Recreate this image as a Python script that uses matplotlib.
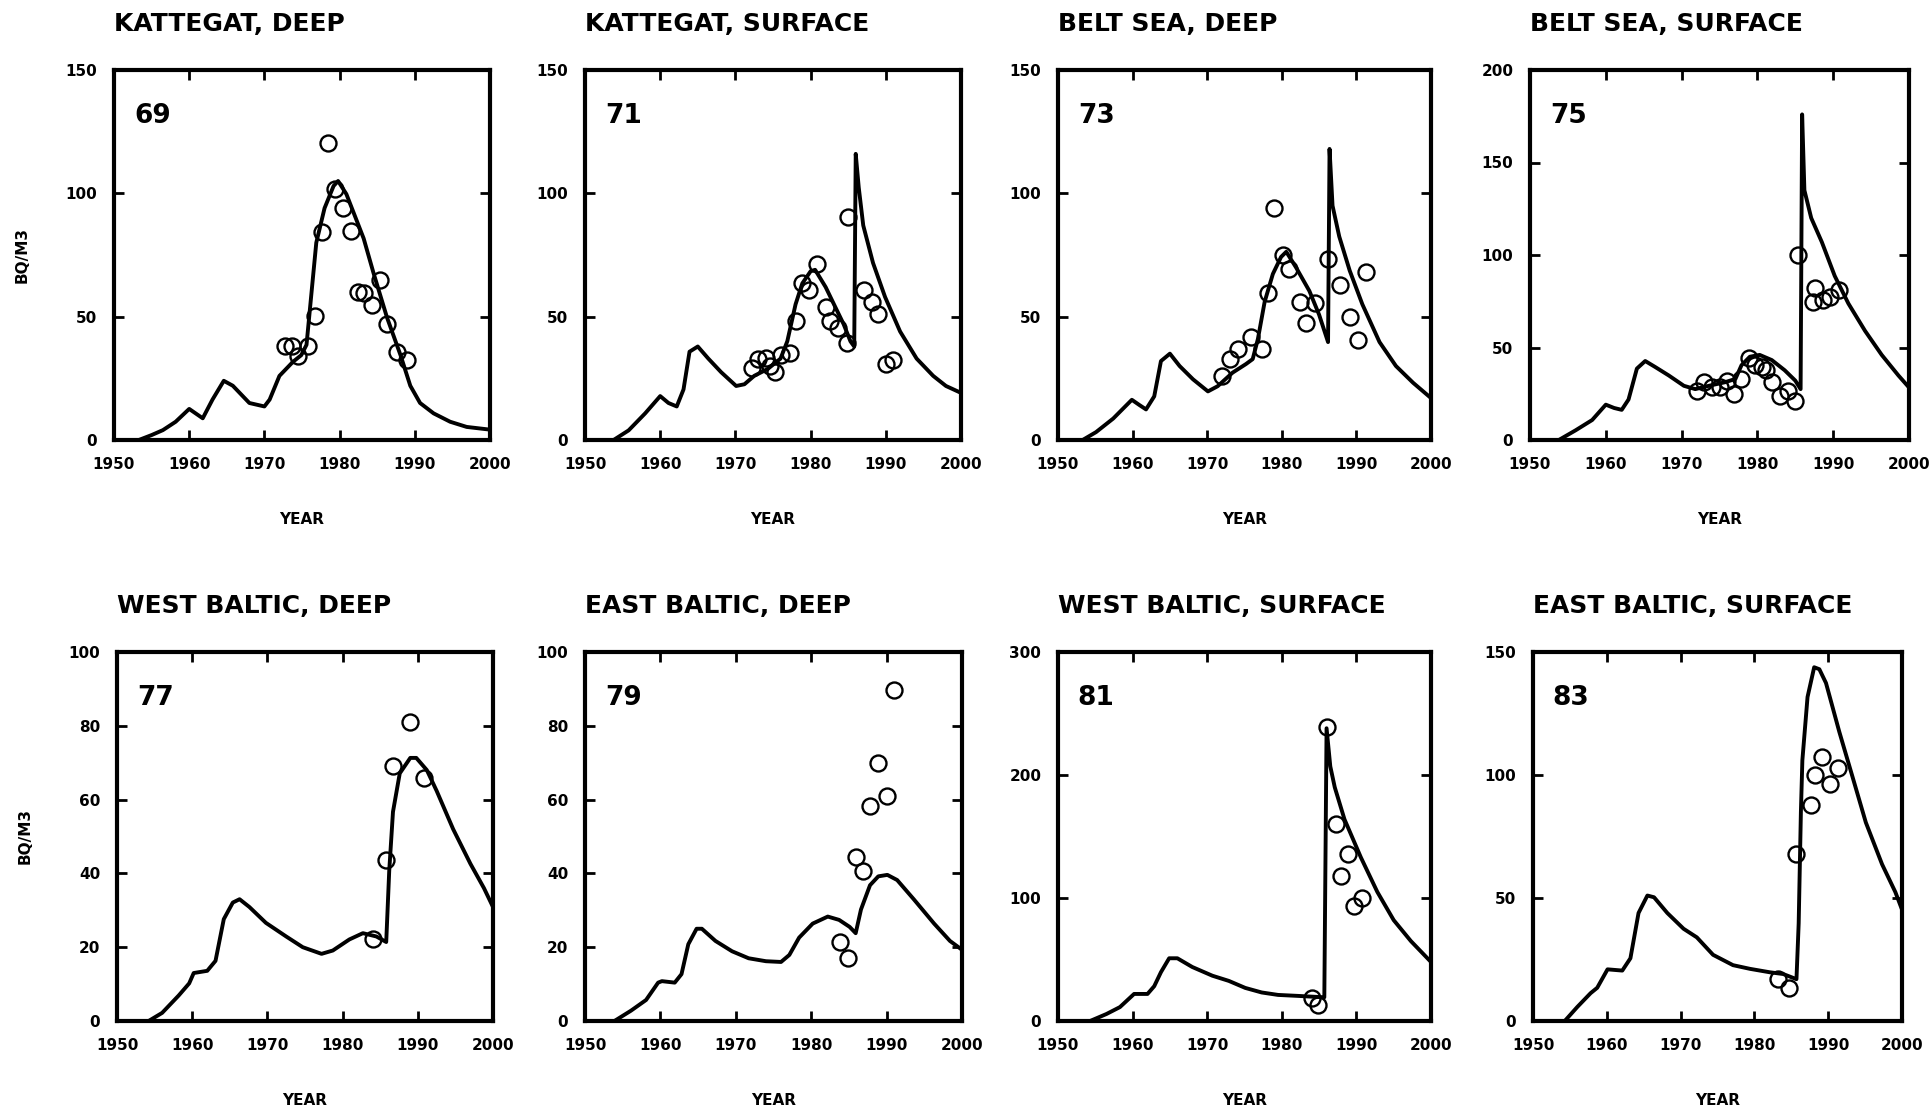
import matplotlib.pyplot as plt

# model curves (Bq/m3) and measured values, one set per sea area

kd_yr = [1950, 1953.3, 1955, 1956.5, 1958.2, 1960, 1961.8, 1963.1, 1964.6, 1965.8, 1968, 1970,
         1970.7, 1972, 1973.8, 1974.9, 1975.6, 1976.9, 1978.0, 1979.2, 1979.8, 1980.9, 1983.2,
         1984.5, 1986.3, 1988.1, 1989.4, 1990.7, 1992.5, 1994.7, 1996.9, 2000]
kd_val = [0, 0, 2, 4, 7.4, 12.6, 8.8, 16.4, 24, 22, 15, 13.6, 16.4, 26, 31.7, 34.4, 38.6, 80, 94,
          103, 105, 99.7, 81.7, 67.8, 49.7, 34.4, 22, 15, 10.8, 7.4, 5.3, 4.2]
kd_obs_yr = [1972.7, 1973.7, 1974.5, 1975.8, 1976.7, 1977.6, 1978.5, 1979.4, 1980.4, 1981.5,
             1982.5, 1983.2, 1984.3, 1985.4, 1986.3, 1987.6, 1989.0]
kd_obs = [38, 38, 34, 38, 50.4, 84.4, 120.5, 101.8, 94.2, 84.7, 60, 59.4, 54.6, 65, 47, 35.8, 32.4]

ks_yr = [1950, 1953.8, 1955.8, 1958.0, 1960, 1961.1, 1962.2, 1963.1, 1963.9, 1965.0, 1966.4,
         1968.1, 1970.1, 1971.2, 1972.5, 1974.3, 1976.0, 1976.9, 1978.0, 1978.9, 1980, 1980.6,
         1982.0, 1983.3, 1984.4, 1985.3, 1985.8, 1986.0, 1986.4, 1987.0, 1988.3, 1989.9, 1991.9,
         1994.1, 1996.3, 1998.0, 2000]
ks_val = [0, 0, 3.9, 10.8, 17.8, 15, 13.6, 20.5, 35.8, 37.9, 33, 27.5, 21.9, 22.6, 26, 28.8, 33,
          40, 55, 63.5, 68.4, 69, 62, 53.8, 46.9, 40, 37.9, 116, 102.4, 87, 71.8, 58, 44, 33, 26,
          21.9, 19.1]
ks_obs_yr = [1972.2, 1973.0, 1974.1, 1974.6, 1975.2, 1976.0, 1977.3, 1978.0, 1978.9, 1979.8,
             1980.9, 1982.0, 1982.6, 1983.7, 1984.8, 1985.0, 1987.1, 1988.1, 1989.0, 1990.0, 1991.0]
ks_obs = [29, 33, 33.3, 30.2, 27.5, 34.4, 35.1, 48.3, 63.5, 60.7, 71.2, 54, 48.3, 45.5, 39.3,
          90.6, 61, 55.9, 51, 31, 32.3]

bd_yr = [1950, 1953.3, 1955.1, 1957.4, 1959.9, 1960.9, 1961.8, 1962.9, 1963.8, 1965.0, 1966.3,
         1968.1, 1970.1, 1971.4, 1973.4, 1975.2, 1976.1, 1976.8, 1977.7, 1978.8, 1979.9, 1980.6,
         1981.9, 1983.7, 1985.0, 1986.2, 1986.4, 1986.8, 1987.7, 1989.1, 1990.8, 1993.1, 1995.3,
         1997.6, 2000]
bd_val = [0, 0, 3.2, 8.7, 16.3, 14.2, 12.4, 17.7, 32, 35, 30, 24.6, 19.7, 21.8, 27.3, 30.8, 32.8,
          41, 56, 67.3, 74.2, 76.3, 70, 60.4, 50.8, 39.7, 118, 95, 82.5, 68.7, 55, 39.7, 30,
          23.2, 17]
bd_obs_yr = [1972.0, 1973.0, 1974.1, 1975.9, 1977.4, 1978.1, 1978.9, 1980.2, 1981.0, 1982.4,
             1983.3, 1984.4, 1986.2, 1987.8, 1989.2, 1990.2, 1991.3]
bd_obs = [25.9, 32.8, 37, 41.8, 37, 59.7, 94.2, 74.9, 69.4, 56, 47.3, 55.6, 73.5, 62.9, 50,
          40.4, 68]

bs_yr = [1950, 1953.8, 1956.0, 1958.2, 1960, 1961.1, 1962.1, 1963.0, 1964.1, 1965.2, 1966.5,
         1968.3, 1970.3, 1971.8, 1973.6, 1975.7, 1977.1, 1977.9, 1979.0, 1980.3, 1981.9, 1983.6,
         1985.0, 1985.7, 1985.9, 1986.2, 1987.1, 1988.5, 1990.2, 1992.0, 1994.2, 1996.4, 1998.6,
         2000]
bs_val = [0, 0, 5.2, 10.8, 19.1, 17.3, 16.3, 21.9, 38.6, 42.7, 39.5, 34.9, 29.3, 27.5, 29.3,
          31.2, 33, 40.4, 45, 46, 43.2, 37.7, 32.1, 27.5, 176, 135, 120, 107, 88.7, 73.8, 59, 46,
          34.9, 28.4]
bs_obs_yr = [1972.0, 1972.9, 1974.0, 1975.1, 1976.0, 1976.9, 1977.9, 1978.9, 1979.7, 1980.6,
             1981.2, 1981.9, 1983.0, 1984.0, 1985.0, 1985.4, 1987.4, 1987.6, 1988.7, 1989.6, 1990.7]
bs_obs = [26.5, 31.2, 28.4, 28.4, 32.1, 24.7, 33, 44.2, 40.4, 39.5, 37.7, 31.2, 23.7, 26.5, 21,
          100, 74.8, 82, 75.7, 77.5, 81.3]

wd_yr = [1950, 1954.2, 1956.0, 1958.2, 1959.6, 1960.2, 1962.0, 1963.1, 1964.2, 1965.4, 1966.3,
         1967.6, 1969.8, 1972.5, 1974.7, 1977.2, 1978.7, 1980.9, 1982.7, 1984.5, 1985.8, 1986.2,
         1986.7, 1987.6, 1989.0, 1989.8, 1991.2, 1992.5, 1994.7, 1997.0, 1998.8, 2000]
wd_val = [0, 0, 2.2, 6.9, 10.2, 13, 13.6, 16.3, 27.6, 32.1, 33, 30.9, 26.6, 22.9, 20, 18.2, 19.1,
          22.1, 23.8, 22.9, 21.4, 40.7, 56.7, 67.1, 71.3, 71.3, 68, 62.4, 52, 42.6, 36, 30.9]
wd_obs_yr = [1984.0, 1985.8, 1986.7, 1988.9, 1990.8]
wd_obs = [22.1, 43.6, 69.1, 81, 65.9]

ed_yr = [1950, 1953.9, 1956.1, 1958.1, 1959.7, 1960.2, 1961.9, 1962.8, 1963.7, 1964.8, 1965.5,
         1967.3, 1969.5, 1971.7, 1974.0, 1976.0, 1977.1, 1978.4, 1980.2, 1982.2, 1983.7, 1985.1,
         1985.9, 1986.6, 1987.8, 1988.9, 1990.1, 1991.4, 1993.6, 1996.3, 1998.4, 2000]
ed_val = [0, 0, 2.8, 5.7, 10.4, 10.8, 10.4, 12.7, 20.8, 25, 25, 21.7, 18.9, 17, 16.2, 16, 17.9,
          22.6, 26.4, 28.3, 27.4, 25.5, 23.8, 30.2, 36.8, 39.2, 39.6, 38.2, 33, 26.4, 21.7, 19.3]
ed_obs_yr = [1983.8, 1984.9, 1986.0, 1986.9, 1987.8, 1988.9, 1990.0, 1991.0]
ed_obs = [21.5, 17.2, 44.5, 40.6, 58.2, 69.8, 61.1, 89.6]

ws_yr = [1950, 1954.3, 1956.5, 1958.3, 1960.2, 1962.0, 1962.9, 1963.8, 1964.9, 1966.0, 1968.0,
         1970.7, 1972.9, 1975.1, 1977.3, 1979.5, 1982.2, 1984.0, 1985.7, 1986.0, 1986.5, 1987.1,
         1988.4, 1990.6, 1992.8, 1995.0, 1997.3, 2000]
ws_val = [0, 0, 5.7, 11.3, 22, 22, 28.3, 39.7, 51, 51, 43.9, 36.8, 32.6, 26.9, 23.2, 21.2, 20.4,
          19.8, 19.3, 238, 207, 190, 164, 133, 105, 82, 65, 48]
ws_obs_yr = [1984.0, 1984.9, 1986.1, 1987.3, 1988.0, 1988.9, 1989.7, 1990.7]
ws_obs = [18.4, 12.7, 239, 160, 117.6, 135.4, 93.5, 99.7]

es_yr = [1950, 1954.3, 1956.0, 1957.8, 1958.7, 1960.1, 1962.1, 1963.2, 1964.3, 1965.5, 1966.4,
         1968.2, 1970.4, 1972.2, 1974.4, 1977.1, 1979.4, 1982.1, 1983.9, 1985.7, 1986.0, 1986.3,
         1986.5, 1987.2, 1988.1, 1988.8, 1989.7, 1991.5, 1993.3, 1995.1, 1997.3, 1999.1, 2000]
es_val = [0, 0, 5.7, 11.3, 13.5, 21, 20.5, 25.5, 43.9, 51, 50.3, 43.9, 37.5, 34, 26.9, 22.7,
          21.2, 19.8, 19.1, 17, 39.7, 85, 106, 131.7, 143.8, 143, 137.4, 117.6, 99.2, 80.7, 63.7,
          52.4, 45.3]
es_obs_yr = [1983.2, 1984.7, 1985.7, 1987.7, 1988.2, 1989.2, 1990.2, 1991.3]
es_obs = [17, 13.5, 68, 88, 99.9, 107.4, 96.3, 103]

titles = ['KATTEGAT, DEEP', 'KATTEGAT, SURFACE', 'BELT SEA, DEEP', 'BELT SEA, SURFACE',
          'WEST BALTIC, DEEP', 'EAST BALTIC, DEEP', 'WEST BALTIC, SURFACE', 'EAST BALTIC, SURFACE']
panel_nums = ['69', '71', '73', '75', '77', '79', '81', '83']
y_max = [150, 150, 150, 200, 100, 100, 300, 150]
y_step = [50, 50, 50, 50, 20, 20, 100, 50]
year_ticks = [1950, 1960, 1970, 1980, 1990, 2000]

models = [(kd_yr, kd_val), (ks_yr, ks_val), (bd_yr, bd_val), (bs_yr, bs_val),
          (wd_yr, wd_val), (ed_yr, ed_val), (ws_yr, ws_val), (es_yr, es_val)]
measured = [(kd_obs_yr, kd_obs), (ks_obs_yr, ks_obs), (bd_obs_yr, bd_obs), (bs_obs_yr, bs_obs),
            (wd_obs_yr, wd_obs), (ed_obs_yr, ed_obs), (ws_obs_yr, ws_obs), (es_obs_yr, es_obs)]

# panel boxes in pixels: left, right, top, bottom
W, H = 1929, 1113
boxes = [(114, 490, 70, 440), (585, 961, 70, 440), (1058, 1431, 70, 440), (1530, 1909, 70, 440),
         (117, 493, 652, 1021), (585, 962, 652, 1021), (1058, 1431, 652, 1021), (1533, 1902, 652, 1021)]

plt.rcParams['font.family'] = 'DejaVu Sans'
plt.rcParams['font.weight'] = 'bold'

fig = plt.figure(figsize=(W / 100, H / 100), dpi=100)

for i in range(8):
    l, r, t, b = boxes[i]
    ax = fig.add_axes([l / W, (H - b) / H, (r - l) / W, (b - t) / H])
    yr, val = models[i]
    ax.plot(yr, val, color='black', lw=2.8, solid_joinstyle='round')
    oyr, oval = measured[i]
    ax.plot(oyr, oval, linestyle='none', marker='o', ms=11.5, mfc='none',
            mec='black', mew=1.7, clip_on=False)
    ax.set_xlim(1950, 2000)
    ax.set_ylim(0, y_max[i])
    ax.set_xticks(year_ticks)
    ax.set_yticks(list(range(0, y_max[i] + 1, y_step[i])))
    ax.tick_params(direction='in', length=7, width=2, top=True, right=True,
                   labelsize=11, pad=12)
    for lab in ax.get_xticklabels() + ax.get_yticklabels():
        lab.set_fontweight('bold')
    for sp in ax.spines.values():
        sp.set_linewidth(3)
    ax.set_title(titles[i], loc='left', fontsize=18, fontweight='bold', pad=28)
    ax.text(0.053, 0.875, panel_nums[i], transform=ax.transAxes, ha='left', va='center',
            fontsize=19, fontweight='bold')
    ax.set_xlabel('YEAR', fontsize=11, fontweight='bold')
    ax.xaxis.set_label_coords(0.5, -0.195)
    if i % 4 == 0:
        ax.text(-0.245, 0.5, 'BQ/M3', transform=ax.transAxes, rotation=90,
                ha='center', va='center', fontsize=11, fontweight='bold')

fig.savefig('out.png', dpi=100)
